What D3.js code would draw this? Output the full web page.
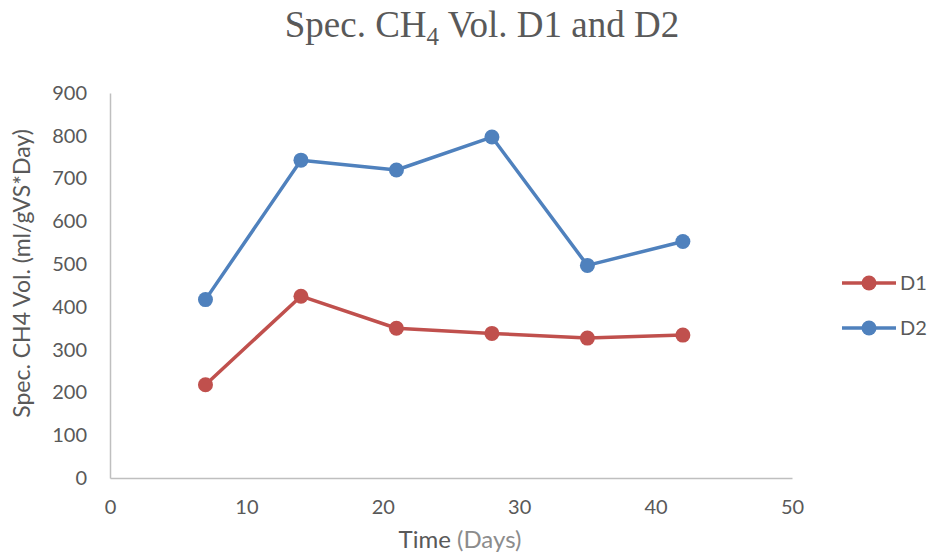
<!DOCTYPE html>
<html>
<head>
<meta charset="utf-8">
<script src="https://cdn.jsdelivr.net/npm/d3@7"></script>
<style>
  html, body { margin: 0; padding: 0; background: #fff; }
  svg { display: block; }
</style>
</head>
<body>
<svg id="chart" width="930" height="556"></svg>
<script>
// Sampling days and specific methane volume per digester
const days = [7, 14, 21, 28, 35, 42];
const d1Values = [218, 425, 350, 338, 327, 334];
const d2Values = [417, 743, 720, 797, 497, 553];
const seriesNames = ["D1", "D2"];
const seriesColors = ["#C0504D", "#4F81BD"];
const xTicks = [0, 10, 20, 30, 40, 50];
const yTicks = [0, 100, 200, 300, 400, 500, 600, 700, 800, 900];

const series = [
  { name: seriesNames[0], color: seriesColors[0], values: d1Values },
  { name: seriesNames[1], color: seriesColors[1], values: d2Values }
];

const svg = d3.select("#chart");
const margin = { left: 110, right: 138, top: 93, bottom: 78 };
const W = 930, H = 556;

const x = d3.scaleLinear().domain([0, 50]).range([margin.left, W - margin.right]);
const y = d3.scaleLinear().domain([0, 900]).range([H - margin.bottom, margin.top]);

const labelFont = "Lato, 'Open Sans', sans-serif";
const textColor = "#595959";
const axisColor = "#BFBFBF";

// Title with subscript
const title = svg.append("text")
  .attr("x", 482).attr("y", 37)
  .attr("text-anchor", "middle")
  .attr("font-family", "'Liberation Serif', 'Times New Roman', serif")
  .attr("font-size", 37)
  .attr("fill", textColor);
title.append("tspan").text("Spec. CH");
title.append("tspan").attr("font-size", 25).attr("dy", 8).text("4");
title.append("tspan").attr("dy", -8).text(" Vol. D1 and D2");

// Axes
const xAxis = d3.axisBottom(x).tickValues(xTicks).tickSize(0).tickPadding(22);
const yAxis = d3.axisLeft(y).tickValues(yTicks).tickSize(0).tickPadding(23);

const gx = svg.append("g").attr("transform", `translate(0,${y(0)})`).call(xAxis);
const gy = svg.append("g").attr("transform", `translate(${x(0)},0)`).call(yAxis);

[gx, gy].forEach(g => {
  g.select(".domain").attr("stroke", axisColor).attr("stroke-width", 1.5);
  g.selectAll("text")
    .attr("font-family", labelFont)
    .attr("font-size", 20)
    .attr("fill", textColor);
});

// Axis titles
const xTitle = svg.append("text")
  .attr("x", x(25) + 9).attr("y", 548)
  .attr("text-anchor", "middle")
  .attr("font-family", labelFont)
  .attr("font-size", 24)
  .attr("fill", textColor);
xTitle.append("tspan").text("Time ");
xTitle.append("tspan").attr("fill", "#8C8C8C").text("(Days)");

svg.append("text")
  .attr("transform", `translate(30,${y(450) - 12}) rotate(-90)`)
  .attr("text-anchor", "middle")
  .attr("font-family", labelFont)
  .attr("font-size", 23)
  .attr("fill", textColor)
  .text("Spec. CH4 Vol. (ml/gVS*Day)");

// Lines and markers
const line = d3.line().x((d, i) => x(days[i])).y(d => y(d));

series.forEach(s => {
  svg.append("path")
    .datum(s.values)
    .attr("d", line)
    .attr("fill", "none")
    .attr("stroke", s.color)
    .attr("stroke-width", 3.5)
    .attr("stroke-linejoin", "round");
  svg.selectAll(null)
    .data(s.values)
    .enter().append("circle")
    .attr("cx", (d, i) => x(days[i]))
    .attr("cy", d => y(d))
    .attr("r", 7.5)
    .attr("fill", s.color);
});

// Legend
const legend = svg.append("g");
series.forEach((s, i) => {
  const ly = 283 + i * 45;
  legend.append("line")
    .attr("x1", 842).attr("x2", 896)
    .attr("y1", ly).attr("y2", ly)
    .attr("stroke", s.color).attr("stroke-width", 3.5);
  legend.append("circle")
    .attr("cx", 869).attr("cy", ly).attr("r", 7.5)
    .attr("fill", s.color);
  legend.append("text")
    .attr("x", 900).attr("y", ly)
    .attr("dy", "0.35em")
    .attr("font-family", labelFont)
    .attr("font-size", 20)
    .attr("fill", textColor)
    .text(s.name);
});
</script>
</body>
</html>
